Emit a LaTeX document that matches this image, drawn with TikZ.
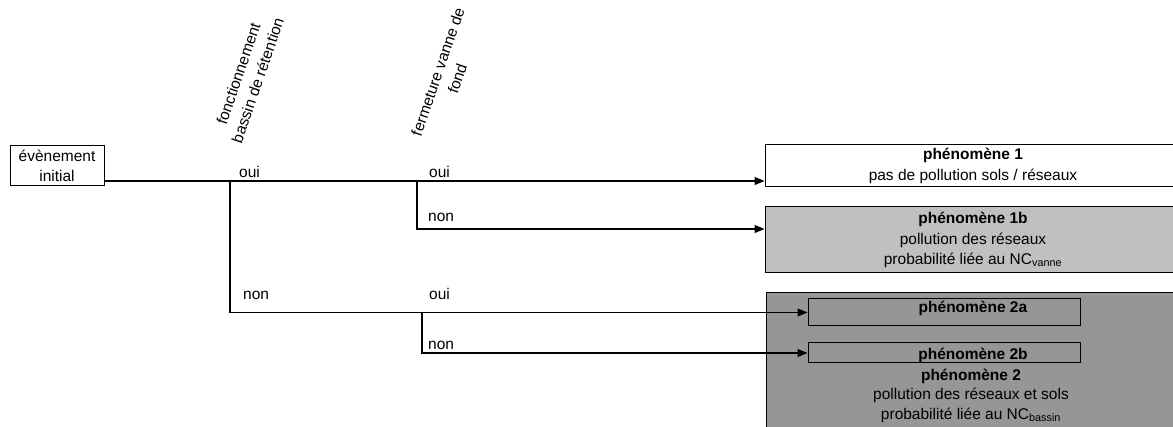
\documentclass[tikz,border=0pt]{standalone}
\usepackage{fontspec}
\setmainfont{Liberation Sans}
\usetikzlibrary{arrows.meta}
\definecolor{lightfill}{HTML}{C0C0C0}
\definecolor{darkfill}{HTML}{969696}
\begin{document}
\begin{tikzpicture}[x=1pt,y=-1pt,
  every node/.style={font=\fontsize{15.5}{20.5}\selectfont, inner sep=0pt},
  box/.style={draw=black, line width=1pt, rectangle, align=center},
  wire/.style={draw=black, line width=1.1pt},
  arr/.style={wire, -{Triangle[length=10pt,width=8pt]}},
  answer/.style={anchor=base west},
  question/.style={rotate=71, align=center, font=\fontsize{15.5}{20.5}\selectfont}]
\useasboundingbox (0,0) rectangle (1173,427);

% initial event
\node[box, minimum width=94pt, minimum height=40pt] (init) at (57,166)
  {évènement\\initial};

% outcome boxes (they run past the right edge)
\node[box, minimum width=416pt, minimum height=42pt] (p1) at (973,166)
  {\textbf{phénomène 1}\\pas de pollution sols / réseaux};
\node[box, fill=lightfill, minimum width=416pt, minimum height=66pt] (p1b) at (973,240)
  {\textbf{phénomène 1b}\\pollution des réseaux\\probabilité liée au NC\textsubscript{vanne}};
\node[box, fill=darkfill, minimum width=412pt, minimum height=150pt] (p2) at (972,368) {};
\node[box, minimum width=272pt, minimum height=27pt] (p2a) at (944,312.5) {};
\node[box, minimum width=272pt, minimum height=20pt] (p2b) at (944,353) {};
\node (t2a) at (973,308) {\textbf{phénomène 2a}};
\node (t2b) at (973,355) {\textbf{phénomène 2b}};
\node[align=center, font=\fontsize{15.5}{19.5}\selectfont] (t2) at (971,395.5)
  {\textbf{phénomène 2}\\pollution des réseaux et sols\\probabilité liée au NC\textsubscript{bassin}};

% questions of the event tree
\node[question] (q1) at (248,77) {fonctionnement\\bassin de rétention};
\node[question] (q2) at (447.5,75) {fermeture vanne de\\fond};

% branch points
\coordinate (b1) at (230,181);
\coordinate (b2) at (417,181);
\coordinate (b3) at (422,312);

% branches
\draw[arr] (init.east |- b1) -- (p1.west |- b1);
\draw[arr] (b2) |- ([yshift=11pt]p1b.west);
\draw[arr] (b1) |- (p2a.west);
\draw[arr] (b3) |- (p2b.west);

% answers
\node[answer] (a1) at (239,178) {oui};
\node[answer] (a2) at (429,178) {oui};
\node[answer] (a3) at (428,222) {non};
\node[answer] (a4) at (243,300) {non};
\node[answer] (a5) at (429,300) {oui};
\node[answer] (a6) at (428,350) {non};
\end{tikzpicture}
\end{document}
